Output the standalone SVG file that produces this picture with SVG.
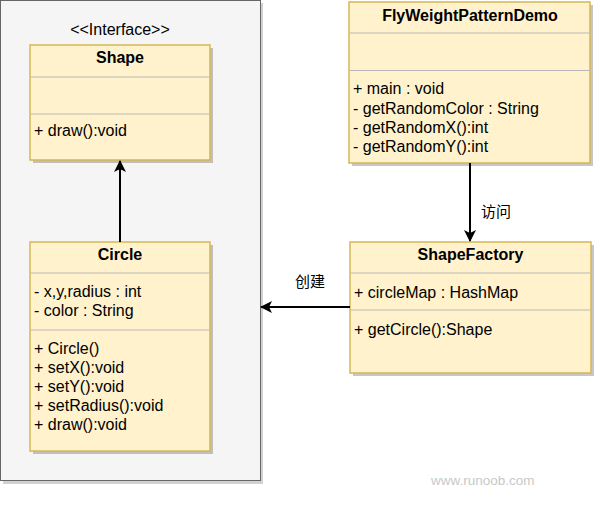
<svg xmlns="http://www.w3.org/2000/svg" width="594" height="517" viewBox="0 0 594 517">
  <style>
    text { font-family: "Liberation Sans", Arial, Helvetica, sans-serif; font-size: 16px; fill: #000; }
    .title { font-weight: bold; text-anchor: middle; }
    .cls { fill: #fff2cc; stroke: #d6b656; stroke-width: 1.5; }
    .shadow { fill: #000; opacity: 0.22; }
    .div { stroke: #b8b8b8; stroke-width: 1; }
    .edge { stroke: #000; stroke-width: 2; fill: none; }
    .cjk { font-family: "Liberation Sans", "Noto Sans CJK SC", sans-serif; font-size: 15px; text-anchor: middle; }
    .wm { font-family: "Liberation Sans", Arial, sans-serif; font-size: 13.5px; fill: #c8c8c8; }
  </style>
  <defs>
    <marker id="arr" viewBox="0 0 12 12" refX="11" refY="6" markerWidth="12" markerHeight="12" markerUnits="userSpaceOnUse" orient="auto">
      <path d="M0,0 L12,6 L0,12 L3,6 Z" fill="#000"/>
    </marker>
  </defs>

  <g id="container">
    <rect x="3" y="3" width="260" height="481" fill="#000" opacity="0.18"/>
    <rect x="0.5" y="0.5" width="260" height="480" fill="#f5f5f5" stroke="#666666" stroke-width="1"/>
    <text x="120" y="35" text-anchor="middle">&lt;&lt;Interface&gt;&gt;</text>
  </g>

  <g id="shape">
    <rect class="shadow" x="33" y="48" width="180" height="115"/>
    <rect class="cls" x="30" y="45" width="180" height="115"/>
    <line class="div" x1="30.8" y1="77" x2="209.2" y2="77"/>
    <line class="div" x1="30.8" y1="114" x2="209.2" y2="114"/>
    <text class="title" x="120" y="63">Shape</text>
    <text x="34" y="136">+ draw():void</text>
  </g>

  <g id="circle">
    <rect class="shadow" x="33" y="245" width="180" height="209"/>
    <rect class="cls" x="30" y="242" width="180" height="209"/>
    <line class="div" x1="30.8" y1="273" x2="209.2" y2="273"/>
    <line class="div" x1="30.8" y1="330" x2="209.2" y2="330"/>
    <text class="title" x="120" y="260">Circle</text>
    <text x="34" y="297">- x,y,radius : int</text>
    <text x="34" y="316">- color : String</text>
    <text x="34" y="354">+ Circle()</text>
    <text x="34" y="373">+ setX():void</text>
    <text x="34" y="392">+ setY():void</text>
    <text x="34" y="411">+ setRadius():void</text>
    <text x="34" y="430">+ draw():void</text>
  </g>

  <g id="demo">
    <rect class="shadow" x="352" y="5" width="241" height="161"/>
    <rect class="cls" x="349" y="2" width="241" height="161"/>
    <line class="div" x1="349.8" y1="33" x2="589.2" y2="33"/>
    <line class="div" x1="349.8" y1="70.5" x2="589.2" y2="70.5"/>
    <text class="title" x="470" y="21">FlyWeightPatternDemo</text>
    <text x="353" y="94">+ main : void</text>
    <text x="353" y="114">- getRandomColor : String</text>
    <text x="353" y="133">- getRandomX():int</text>
    <text x="353" y="152">- getRandomY():int</text>
  </g>

  <g id="factory">
    <rect class="shadow" x="353" y="245" width="241" height="131"/>
    <rect class="cls" x="350" y="242" width="241" height="131"/>
    <line class="div" x1="350.8" y1="273" x2="590.2" y2="273"/>
    <line class="div" x1="350.8" y1="310" x2="590.2" y2="310"/>
    <text class="title" x="470.5" y="260">ShapeFactory</text>
    <text x="354" y="298">+ circleMap : HashMap</text>
    <text x="354" y="335">+ getCircle():Shape</text>
  </g>

  <g id="connectors">
    <line class="edge" x1="120" y1="242" x2="120" y2="161" marker-end="url(#arr)"/>
    <line class="edge" x1="470" y1="163" x2="470" y2="241" marker-end="url(#arr)"/>
    <line class="edge" x1="350" y1="307" x2="261" y2="307" marker-end="url(#arr)"/>
    <text class="cjk" x="496" y="217">访问</text>
    <text class="cjk" x="310" y="287">创建</text>
  </g>

  <text class="wm" x="431" y="485">www.runoob.com</text>
</svg>
